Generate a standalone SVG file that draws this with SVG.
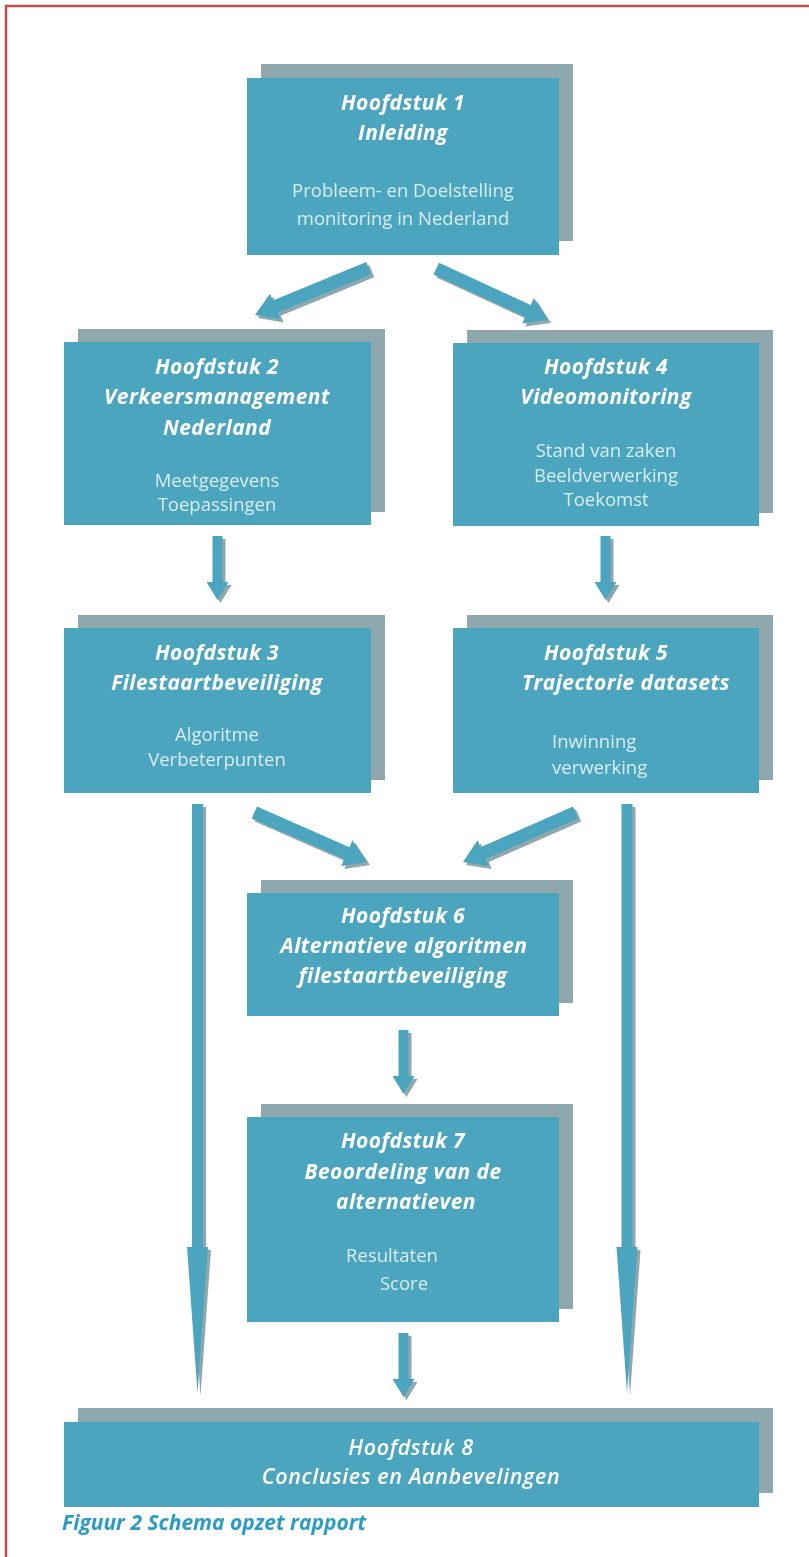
<svg xmlns="http://www.w3.org/2000/svg" width="809" height="1557" viewBox="0 0 809 1557">
<style>
.front{fill:#4ba5be}
.back{fill:#8fa8ae}
.t{font-family:"Open Sans","Liberation Sans",sans-serif;font-style:italic;font-weight:700;font-size:21px;letter-spacing:0.4px;fill:#ffffff;text-anchor:middle}
.s{font-family:"Open Sans","Liberation Sans",sans-serif;font-size:18.5px;fill:#d8edf3;text-anchor:middle}
.a{fill:#4ba5be}
.cap{font-family:"Open Sans","Liberation Sans",sans-serif;font-style:italic;font-weight:700;font-size:21px;fill:#2d9cc4}
</style>
<defs>
<filter id="sh" x="-20%" y="-20%" width="140%" height="140%">
<feFlood flood-color="#8fa8ae" result="c"/>
<feComposite in="c" in2="SourceAlpha" operator="in" result="s"/>
<feOffset in="s" dx="3" dy="3" result="o"/>
<feMerge><feMergeNode in="o"/><feMergeNode in="SourceGraphic"/></feMerge>
</filter>
<polygon id="shortArrow" points="-5,-64 5,-64 5,-18 11,-18 0,0 -11,-18 -5,-18"/>
<polygon id="diagArrow" points="-6.5,-123 6.5,-123 6.5,-22 14,-22 0,0 -14,-22 -6.5,-22"/>
<polygon id="longArrow" points="-5.5,-589 5.5,-589 5.5,-146 10.5,-146 0,0 -10.5,-146 -5.5,-146"/>
</defs>
<path d="M6,1557 V6 H809" fill="none" stroke="#c0504d" stroke-width="2.5"/>

<g id="connectors" class="a" filter="url(#sh)">
<use href="#diagArrow" transform="translate(255,315) rotate(67.6)"/>
<use href="#diagArrow" transform="translate(548,320) rotate(-65.3)"/>
<use href="#shortArrow" transform="translate(217.5,600)"/>
<use href="#shortArrow" transform="translate(605.5,600)"/>
<use href="#diagArrow" transform="translate(367,862) rotate(-66.3)"/>
<use href="#diagArrow" transform="translate(463,862) rotate(66.3)"/>
<use href="#shortArrow" transform="translate(403.5,1094)"/>
<use href="#shortArrow" transform="translate(403.5,1397)"/>
<use href="#longArrow" transform="translate(197.5,1393)"/>
<use href="#longArrow" transform="translate(627,1393)"/>
</g>

<g id="node1">
<rect class="back" x="261" y="64" width="312" height="177"/>
<rect class="front" x="247" y="78" width="312" height="177"/>
<text class="t" x="403" y="110">Hoofdstuk 1</text>
<text class="t" x="403" y="140">Inleiding</text>
<text class="s" x="403" y="197">Probleem- en Doelstelling</text>
<text class="s" x="403" y="225">monitoring in Nederland</text>
</g>

<g id="node2">
<rect class="back" x="78" y="329" width="307" height="183"/>
<rect class="front" x="64" y="342" width="307" height="183"/>
<text class="t" x="217" y="374">Hoofdstuk 2</text>
<text class="t" x="217" y="404">Verkeersmanagement</text>
<text class="t" x="217" y="435">Nederland</text>
<text class="s" x="217" y="487">Meetgegevens</text>
<text class="s" x="217" y="511">Toepassingen</text>
</g>

<g id="node4">
<rect class="back" x="467" y="330" width="306" height="183"/>
<rect class="front" x="453" y="343" width="306" height="183"/>
<text class="t" x="606" y="374">Hoofdstuk 4</text>
<text class="t" x="606" y="404">Videomonitoring</text>
<text class="s" x="606" y="457">Stand van zaken</text>
<text class="s" x="606" y="482">Beeldverwerking</text>
<text class="s" x="606" y="506">Toekomst</text>
</g>

<g id="node3">
<rect class="back" x="78" y="615" width="307" height="165"/>
<rect class="front" x="64" y="628" width="307" height="165"/>
<text class="t" x="217" y="660">Hoofdstuk 3</text>
<text class="t" x="217" y="690">Filestaartbeveiliging</text>
<text class="s" x="217" y="741">Algoritme</text>
<text class="s" x="217" y="766">Verbeterpunten</text>
</g>

<g id="node5">
<rect class="back" x="467" y="615" width="306" height="165"/>
<rect class="front" x="453" y="628" width="306" height="165"/>
<text class="t" x="606" y="660">Hoofdstuk 5</text>
<text class="t" x="626" y="690">Trajectorie datasets</text>
<text class="s" x="552" y="748" style="text-anchor:start">Inwinning</text>
<text class="s" x="552" y="774" style="text-anchor:start">verwerking</text>
</g>

<g id="node6">
<rect class="back" x="261" y="880" width="312" height="123"/>
<rect class="front" x="247" y="893" width="312" height="123"/>
<text class="t" x="403" y="923">Hoofdstuk 6</text>
<text class="t" x="404" y="953">Alternatieve algoritmen</text>
<text class="t" x="403" y="983">filestaartbeveiliging</text>
</g>

<g id="node7">
<rect class="back" x="261" y="1104" width="312" height="205"/>
<rect class="front" x="247" y="1117" width="312" height="205"/>
<text class="t" x="403" y="1148">Hoofdstuk 7</text>
<text class="t" x="403" y="1179">Beoordeling van de</text>
<text class="t" x="406" y="1209">alternatieven</text>
<text class="s" x="392" y="1262">Resultaten</text>
<text class="s" x="404" y="1290">Score</text>
</g>

<g id="node8">
<rect class="back" x="78" y="1408" width="695" height="85"/>
<rect class="front" x="64" y="1422" width="695" height="85"/>
<text class="t" x="411" y="1455" style="font-size:21.5px;font-weight:600;letter-spacing:0.6px">Hoofdstuk 8</text>
<text class="t" x="411" y="1484" style="font-size:21.5px;font-weight:600;letter-spacing:0.6px">Conclusies en Aanbevelingen</text>
</g>

<text class="cap" x="62" y="1530">Figuur 2 Schema opzet rapport</text>
</svg>
